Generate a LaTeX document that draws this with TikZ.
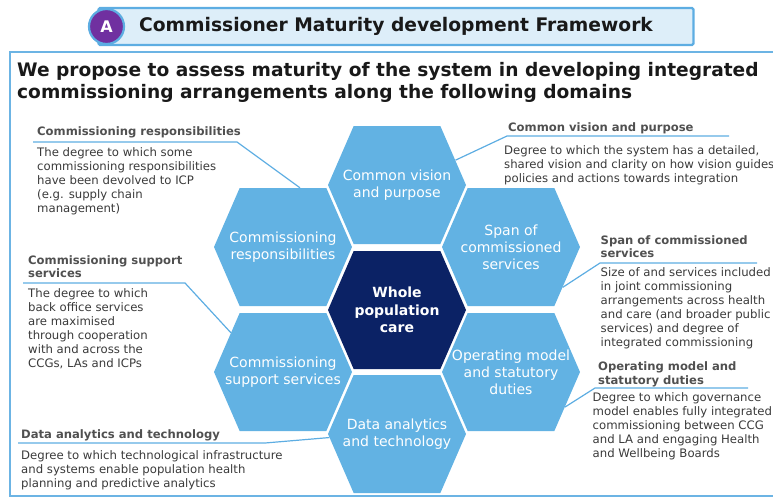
\documentclass[tikz,border=0pt]{standalone}
\usepackage{fontspec}
\setmainfont{DejaVu Sans}
\usepackage{xcolor}
\definecolor{cmHex}{HTML}{62B2E3}
\definecolor{cmNavy}{HTML}{0B2265}
\definecolor{cmLine}{HTML}{5DADE2}
\definecolor{cmFrame}{HTML}{6CB4E4}
\definecolor{cmBandBg}{HTML}{DDEEF9}
\definecolor{cmPurple}{HTML}{7030A0}
\definecolor{cmHead}{HTML}{505050}
\definecolor{cmText}{HTML}{3A3A3A}
\usepackage{tikz}
\usetikzlibrary{shapes.symbols}
\tikzset{
  %% -- Band and title ---------------------------------------------------
  bandeau/.style   = {draw=cmLine, line width=2.2pt, fill=cmBandBg,
                      rounded corners=1.5pt, minimum width=595pt,
                      minimum height=37pt, inner sep=0pt, text=black!90,
                      font=\fontsize{18.7}{22}\selectfont\bfseries},
  pastille/.style  = {circle, fill=cmPurple, draw=cmLine, line width=2.2pt,
                      minimum size=35pt, inner sep=0pt, text=white,
                      font=\fontsize{16}{18}\selectfont\bfseries},
  titre/.style     = {anchor=north west, inner sep=0pt, align=left,
                      text=black!90, font=\fontsize{18.6}{21.5}\selectfont\bfseries},
  %%
  %% -- Cells: flat top, pointed sides ------------------------------------
  alveole/.style   = {signal, signal to=east and west, signal pointer angle=133,
                      fill=cmHex, draw=none, inner sep=0pt,
                      minimum width=138pt, minimum height=118pt},
  alveoleCoeur/.style = {alveole, fill=cmNavy},
  texteAlveole/.style = {text=white, align=center, inner sep=0pt,
                      font=\fontsize{14}{17}\selectfont},
  texteCoeur/.style = {texteAlveole, font=\fontsize{14}{17.5}\selectfont\bfseries},
  %%
  %% -- Legends around the cells -------------------------------------------
  titreDomaine/.style = {anchor=north west, inner sep=0pt, align=left,
                      text=cmHead, font=\fontsize{11.6}{13.5}\selectfont\bfseries},
  texteDomaine/.style = {anchor=north west, inner sep=0pt, align=left,
                      text=cmText, font=\fontsize{11.7}{14}\selectfont},
  trait/.style     = {draw=cmLine, line width=1.2pt},
}

\begin{document}
\begin{tikzpicture}[x=1pt, y=-1pt]
\useasboundingbox (0,0) rectangle (773,496);

% header band with its letter
\node[bandeau] (bandeau) at (396,26.5) {Commissioner Maturity development Framework};
\node[pastille] (pastille) at (106.5,26.5) {A};

% frame of the panel, running off the right edge
\draw[cmFrame, line width=2pt] (10,52) rectangle (800,496);
\node[titre] (titre) at (17,62.5)
     {We propose to assess maturity of the system in developing integrated\\
      commissioning arrangements along the following domains};

% the honeycomb
\node[alveole, label={[texteAlveole]center:{Common vision\\and purpose}}] (vision) at (397,185) {};
\node[alveole, label={[texteAlveole]center:{Commissioning\\responsibilities}}] (resp) at (283,247) {};
\node[alveole, label={[texteAlveole]center:{Span of\\commissioned\\services}}] (span) at (511,247) {};
\node[alveoleCoeur, label={[texteCoeur]center:{Whole\\population\\care}}] (coeur) at (397,310) {};
\node[alveole, label={[texteAlveole]center:{Commissioning\\support services}}] (support) at (283,372) {};
\node[alveole, label={[texteAlveole]center:{Operating model\\and statutory\\duties}}] (operating) at (511,372) {};
\node[alveole, label={[texteAlveole]center:{Data analytics\\and technology}}] (data) at (397,434) {};

% legends
\node[titreDomaine] (respTitre) at (37,126.5) {Commissioning responsibilities};
\node[texteDomaine] (respTexte) at (37,147)
     {The degree to which some\\commissioning responsibilities\\have been devolved to ICP\\(e.g. supply chain\\management)};

\node[titreDomaine] (visionTitre) at (508,122.5) {Common vision and purpose};
\node[texteDomaine] (visionTexte) at (504,145)
     {Degree to which the system has a detailed,\\shared vision and clarity on how vision guides\\policies and actions towards integration};

\node[titreDomaine] (spanTitre) at (600.5,235) {Span of commissioned\\services};
\node[texteDomaine] (spanTexte) at (600.5,267.5)
     {Size of and services included\\in joint commissioning\\arrangements across health\\and care (and broader public\\services) and degree of\\integrated commissioning};

\node[titreDomaine] (operatingTitre) at (598,361.5) {Operating model and\\statutory duties};
\node[texteDomaine] (operatingTexte) at (592.5,392.5)
     {Degree to which governance\\model enables fully integrated\\commissioning between CCG\\and LA and engaging Health\\and Wellbeing Boards};

\node[titreDomaine] (supportTitre) at (28,255) {Commissioning support\\services};
\node[texteDomaine] (supportTexte) at (28,288)
     {The degree to which\\back office services\\are maximised\\through cooperation\\with and across the\\CCGs, LAs and ICPs};

\node[titreDomaine] (dataTitre) at (21,429) {Data analytics and technology};
\node[texteDomaine] (dataTexte) at (21,450)
     {Degree to which technological infrastructure\\and systems enable population health\\planning and predictive analytics};

% leader lines: cell edge, knee, then under the legend title
\coordinate (respCoude) at (237,142);   \coordinate (respFin) at (33,142);
\coordinate (visionCoude) at (507,136); \coordinate (visionFin) at (729,136);
\coordinate (spanCoude) at (600,263);   \coordinate (spanFin) at (757,263);
\coordinate (operatingCoude) at (595,388); \coordinate (operatingFin) at (748,388);
\coordinate (supportCoude) at (185,283); \coordinate (supportFin) at (23,283);
\coordinate (dataCoude) at (265,443);   \coordinate (dataFin) at (18,443);

\draw[trait] (resp.74) -- (respCoude) -- (respFin);
\draw[trait] (vision.23) -- (visionCoude) -- (visionFin);
\draw[trait] (span.-38) -- (spanCoude) -- (spanFin);
\draw[trait] (operating.-33) -- (operatingCoude) -- (operatingFin);
\draw[trait] (support.143) -- (supportCoude) -- (supportFin);
\draw[trait] (data.183) -- (dataCoude) -- (dataFin);

\end{tikzpicture}
\end{document}
